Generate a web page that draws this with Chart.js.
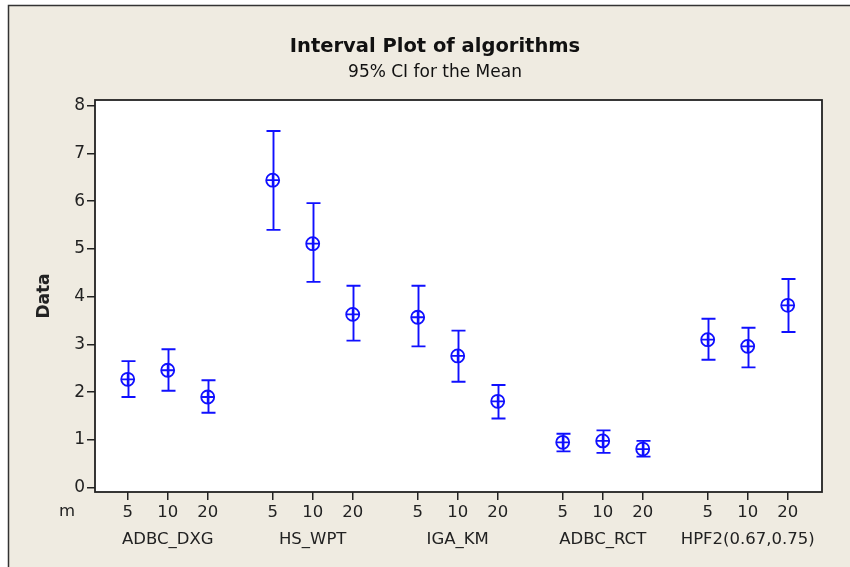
<!DOCTYPE html>
<html>
<head>
<meta charset="utf-8">
<script src="https://cdn.jsdelivr.net/npm/chart.js@4"></script>
<style>
  html, body { margin: 0; padding: 0; background: #fff; }
  #wrap { width: 850px; height: 567px; }
</style>
</head>
<body>
<div id="wrap"><canvas id="chart" width="850" height="567"></canvas></div>
<script>
// data (mean and 95% CI ends)
const groups = ['ADBC_DXG', 'HS_WPT', 'IGA_KM', 'ADBC_RCT', 'HPF2(0.67,0.75)'];
const levels = ['5', '10', '20'];
const means = [2.27, 2.46, 1.90,  6.44, 5.11, 3.63,  3.57, 2.76, 1.81,  0.95, 0.98, 0.81,  3.10, 2.96, 3.82];
const lower = [1.90, 2.03, 1.57,  5.40, 4.31, 3.08,  2.96, 2.22, 1.45,  0.76, 0.73, 0.65,  2.68, 2.52, 3.26];
const upper = [2.65, 2.90, 2.25,  7.47, 5.96, 4.23,  4.23, 3.29, 2.15,  1.13, 1.20, 0.98,  3.54, 3.35, 4.37];
const yTicks = [0, 1, 2, 3, 4, 5, 6, 7, 8];

const FONT = '"DejaVu Sans", sans-serif';
const markColor = '#1010ff';
const groupGap = 3.625; // wider gap between algorithm groups

// x position of each point: group offset + level index
const xPos = [];
groups.forEach((g, gi) => levels.forEach((l, li) => xPos.push(gi * groupGap + li)));
const points = xPos.map((xv, i) => ({ x: xv, y: means[i] }));

const frame = {
    id: 'frame',
    beforeDraw(chart) {
        const { ctx, chartArea: a } = chart;
        ctx.save();
        ctx.fillStyle = '#fff';
        ctx.fillRect(0, 0, chart.width, chart.height);
        ctx.fillStyle = '#efebe1';
        ctx.fillRect(8, 5, chart.width - 8, chart.height - 5);
        ctx.strokeStyle = '#333';
        ctx.lineWidth = 1.5;
        ctx.beginPath();
        ctx.moveTo(8.5, chart.height);
        ctx.lineTo(8.5, 5.5);
        ctx.lineTo(chart.width, 5.5);
        ctx.stroke();
        ctx.fillStyle = '#fff';
        ctx.fillRect(a.left, a.top, a.right - a.left, a.bottom - a.top);
        ctx.restore();
    },
    beforeDatasetsDraw(chart) {
        // error bars for the 95% CI
        const { ctx, scales: { x, y } } = chart;
        ctx.save();
        ctx.strokeStyle = markColor;
        ctx.lineWidth = 1.9;
        xPos.forEach((xv, i) => {
            const px = Math.round(x.getPixelForValue(xv)) + 0.5;
            const lo = y.getPixelForValue(lower[i]);
            const hi = y.getPixelForValue(upper[i]);
            ctx.beginPath();
            ctx.moveTo(px, lo); ctx.lineTo(px, hi);
            ctx.moveTo(px - 7, lo); ctx.lineTo(px + 7, lo);
            ctx.moveTo(px - 7, hi); ctx.lineTo(px + 7, hi);
            ctx.stroke();
        });
        ctx.restore();
    },
    afterDraw(chart) {
        const { ctx, chartArea: a, scales: { x } } = chart;
        ctx.save();
        ctx.strokeStyle = '#222';
        ctx.lineWidth = 1.8;
        ctx.strokeRect(a.left, a.top, a.right - a.left, a.bottom - a.top);

        ctx.fillStyle = '#111';
        ctx.textAlign = 'center';
        ctx.textBaseline = 'middle';
        ctx.font = 'bold 19.5px ' + FONT;
        ctx.fillText('Interval Plot of algorithms', 435, 47);
        ctx.font = '17px ' + FONT;
        ctx.fillText('95% CI for the Mean', 435, 73);

        ctx.font = '16.5px ' + FONT;
        ctx.fillStyle = '#222';
        groups.forEach((g, gi) => {
            ctx.fillText(g, x.getPixelForValue(xPos[gi * 3 + 1]), 540);
        });
        ctx.fillText('m', 67, 512);

        ctx.translate(45, (a.top + a.bottom) / 2);
        ctx.rotate(-Math.PI / 2);
        ctx.font = 'bold 17px ' + FONT;
        ctx.fillText('Data', 0, 0);
        ctx.restore();
    }
};

new Chart(document.getElementById('chart'), {
    type: 'scatter',
    data: {
        datasets: [
            {
                data: points,
                pointStyle: 'circle',
                pointRadius: 6.5,
                borderWidth: 1.8,
                borderColor: markColor,
                backgroundColor: 'transparent'
            },
            {
                data: points,
                pointStyle: 'cross',
                pointRadius: 6.5,
                borderWidth: 1.8,
                borderColor: markColor
            }
        ]
    },
    options: {
        responsive: false,
        animation: false,
        layout: { padding: { left: 0, right: 28, top: 100, bottom: 15 } },
        plugins: {
            legend: { display: false },
            tooltip: { enabled: false }
        },
        scales: {
            x: {
                type: 'linear',
                min: -0.8175,
                max: 17.3575,
                afterBuildTicks: s => { s.ticks = xPos.map(v => ({ value: v })); },
                afterFit: s => { s.height = 60; },
                border: { display: false },
                grid: { drawOnChartArea: false, tickLength: 8, color: '#222', lineWidth: 1.5 },
                ticks: {
                    autoSkip: false,
                    maxRotation: 0,
                    padding: 3,
                    color: '#222',
                    font: { family: FONT, size: 16.5 },
                    callback: (v, i) => levels[i % 3]
                }
            },
            y: {
                min: -0.09,
                max: 8.12,
                afterBuildTicks: s => { s.ticks = yTicks.map(v => ({ value: v })); },
                afterFit: s => { s.width = 95; },
                border: { display: false },
                grid: { drawOnChartArea: false, tickLength: 8, color: '#222', lineWidth: 1.5 },
                ticks: {
                    padding: 2,
                    color: '#222',
                    font: { family: FONT, size: 17 }
                }
            }
        }
    },
    plugins: [frame]
});
</script>
</body>
</html>
